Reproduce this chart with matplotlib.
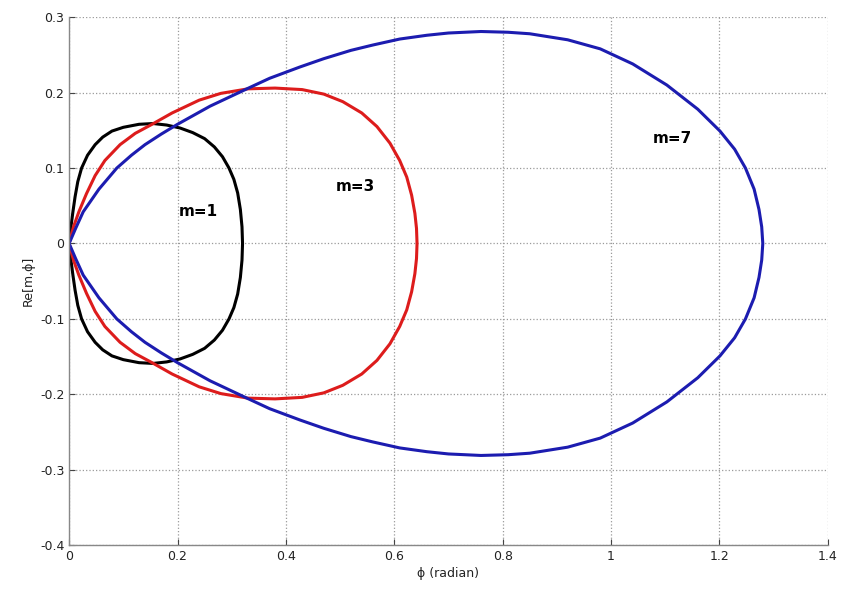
import matplotlib.pyplot as plt

# upper branch of each mode, going from the origin out and back to the axis (phi, Re)
m1_x_up = [0.0, 0.003, 0.007, 0.011, 0.016, 0.023, 0.034, 0.048, 0.062, 0.079, 0.10, 0.129, 0.155, 0.18,
           0.205, 0.228, 0.25, 0.268, 0.283, 0.295, 0.304, 0.311, 0.316, 0.319, 0.32]
m1_y_up = [0.0, 0.02, 0.042, 0.062, 0.082, 0.1, 0.117, 0.131, 0.141, 0.149, 0.154, 0.158, 0.159, 0.157,
           0.153, 0.147, 0.139, 0.128, 0.115, 0.1, 0.085, 0.067, 0.045, 0.022, 0.0]
# lower branch, going back from the axis to the origin
m1_x_lo = [0.32, 0.319, 0.316, 0.311, 0.304, 0.295, 0.283, 0.268, 0.25, 0.228, 0.205, 0.18, 0.155, 0.129,
           0.10, 0.079, 0.062, 0.048, 0.034, 0.023, 0.016, 0.011, 0.007, 0.003, 0.0]
m1_y_lo = [0.0, -0.022, -0.045, -0.067, -0.085, -0.1, -0.115, -0.128, -0.139, -0.147, -0.153, -0.157, -0.159, -0.158,
           -0.154, -0.149, -0.141, -0.131, -0.117, -0.1, -0.082, -0.062, -0.042, -0.02, 0.0]

m3_x_up = [0.0, 0.008, 0.018, 0.032, 0.048, 0.066, 0.094, 0.122, 0.153, 0.19, 0.24, 0.28, 0.33, 0.38,
           0.43, 0.47, 0.505, 0.54, 0.568, 0.592, 0.61, 0.623, 0.632, 0.638, 0.641, 0.642]
m3_y_up = [0.0, 0.022, 0.042, 0.066, 0.09, 0.11, 0.131, 0.146, 0.158, 0.173, 0.19, 0.199, 0.205, 0.206,
           0.204, 0.198, 0.188, 0.173, 0.155, 0.133, 0.11, 0.088, 0.064, 0.04, 0.02, 0.0]
m3_x_lo = [0.642, 0.641, 0.638, 0.632, 0.623, 0.61, 0.592, 0.568, 0.54, 0.505, 0.47, 0.43, 0.38, 0.33,
           0.28, 0.24, 0.19, 0.153, 0.122, 0.094, 0.066, 0.048, 0.032, 0.018, 0.008, 0.0]
m3_y_lo = [0.0, -0.02, -0.04, -0.064, -0.088, -0.11, -0.133, -0.155, -0.173, -0.188, -0.198, -0.204, -0.206, -0.205,
           -0.199, -0.19, -0.173, -0.158, -0.146, -0.131, -0.11, -0.09, -0.066, -0.042, -0.022, 0.0]

m7_x_up = [0.0, 0.012, 0.026, 0.055, 0.088, 0.115, 0.14, 0.17, 0.2, 0.26, 0.328, 0.37, 0.426, 0.47,
           0.52, 0.56, 0.61, 0.66, 0.70, 0.76, 0.81, 0.85, 0.92, 0.98, 1.04, 1.103, 1.16, 1.201,
           1.228, 1.248, 1.264, 1.273, 1.278, 1.28]
m7_y_up = [0.0, 0.02, 0.042, 0.072, 0.1, 0.117, 0.131, 0.145, 0.158, 0.182, 0.205, 0.219, 0.234, 0.245,
           0.256, 0.263, 0.271, 0.276, 0.279, 0.281, 0.28, 0.278, 0.27, 0.258, 0.238, 0.21, 0.178, 0.149,
           0.125, 0.1, 0.072, 0.045, 0.022, 0.0]
m7_x_lo = [1.28, 1.278, 1.273, 1.264, 1.248, 1.228, 1.201, 1.16, 1.103, 1.04, 0.98, 0.92, 0.85, 0.81,
           0.76, 0.70, 0.66, 0.61, 0.56, 0.52, 0.47, 0.426, 0.37, 0.328, 0.26, 0.2, 0.17, 0.14,
           0.115, 0.088, 0.055, 0.026, 0.012, 0.0]
m7_y_lo = [0.0, -0.022, -0.045, -0.072, -0.1, -0.125, -0.149, -0.178, -0.21, -0.238, -0.258, -0.27, -0.278, -0.28,
           -0.281, -0.279, -0.276, -0.271, -0.263, -0.256, -0.245, -0.234, -0.219, -0.205, -0.182, -0.158, -0.145, -0.131,
           -0.117, -0.1, -0.072, -0.042, -0.02, 0.0]

xticks = [0, 0.2, 0.4, 0.6, 0.8, 1, 1.2, 1.4]
xticklabels = ['0', '0.2', '0.4', '0.6', '0.8', '1', '1.2', '1.4']
yticks = [-0.4, -0.3, -0.2, -0.1, 0, 0.1, 0.2, 0.3]
yticklabels = ['-0.4', '-0.3', '-0.2', '-0.1', '0', '0.1', '0.2', '0.3']

fig = plt.figure(figsize=(8.43, 5.92), dpi=100)
ax = fig.add_axes([0.082, 0.079, 0.9, 0.892])

ax.plot(m1_x_up + m1_x_lo, m1_y_up + m1_y_lo, color='#000000', lw=2.2, solid_joinstyle='round')
ax.plot(m3_x_up + m3_x_lo, m3_y_up + m3_y_lo, color='#dd1c1c', lw=2.2, solid_joinstyle='round')
ax.plot(m7_x_up + m7_x_lo, m7_y_up + m7_y_lo, color='#1c1cb0', lw=2.2, solid_joinstyle='round')

ax.text(0.238, 0.042, 'm=1', fontsize=11, fontweight='bold', ha='center', va='center')
ax.text(0.528, 0.076, 'm=3', fontsize=11, fontweight='bold', ha='center', va='center')
ax.text(1.114, 0.139, 'm=7', fontsize=11, fontweight='bold', ha='center', va='center')

ax.set_xlim(0, 1.4)
ax.set_ylim(-0.4, 0.3)
ax.set_xticks(xticks)
ax.set_xticklabels(xticklabels)
ax.set_yticks(yticks)
ax.set_yticklabels(yticklabels)
ax.grid(True, ls=':', color='#9a9a9a', lw=0.9)
ax.tick_params(direction='in', length=4, labelsize=9, colors='#444444', labelcolor='#222222')
for side in ['top', 'right']:
    ax.spines[side].set_visible(False)
for side in ['bottom', 'left']:
    ax.spines[side].set_color('#888888')
    ax.spines[side].set_linewidth(1.0)

ax.set_xlabel('ϕ (radian)', fontsize=9, color='#222222', labelpad=3)
ax.set_ylabel('Re[m,ϕ]', fontsize=9, color='#222222', labelpad=4)

plt.savefig('out.png', dpi=100)
